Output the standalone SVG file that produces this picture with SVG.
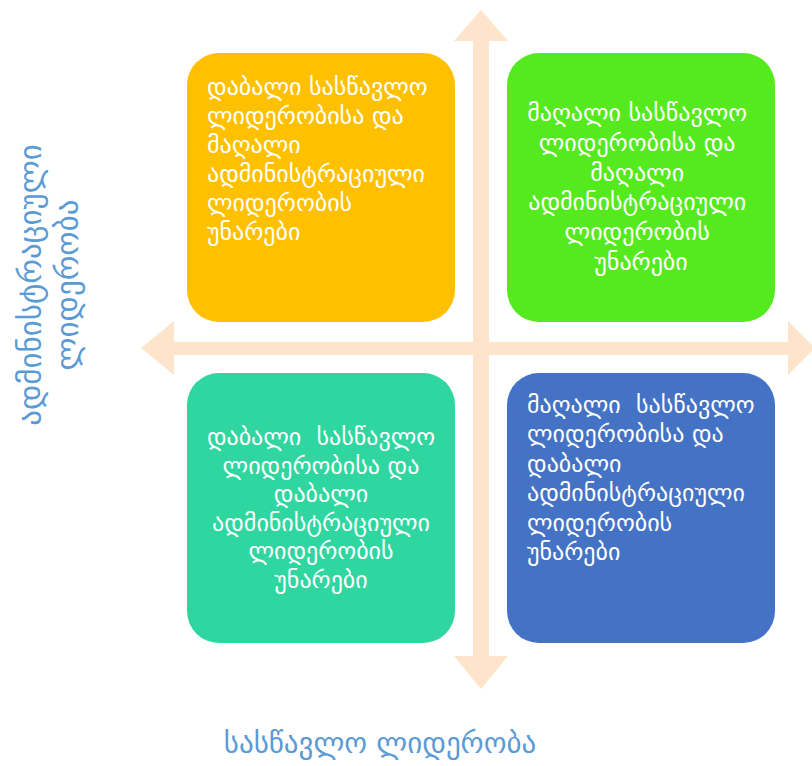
<svg xmlns="http://www.w3.org/2000/svg" width="812" height="766" viewBox="0 0 812 766">
<style>
.box text{fill:#fff;font-family:"DejaVu Sans",sans-serif;font-size:24px}
.axis{fill:#5B9BD5;font-family:"DejaVu Sans",sans-serif}
.arrow{fill:#FDE4CB}
</style>
<rect width="812" height="766" fill="#fff"/>
<g id="connectors">
<polygon class="arrow" points="473,41 454,41 481,10 508,41 489,41 489,656 508,656 481,689 454,656 473,656"/>
<polygon class="arrow" points="174,342 174,321 141,348 174,375 174,355 788,355 788,375 815,348 788,321 788,342"/>
</g>
<g id="tl" class="box">
<rect x="187" y="53" width="268" height="269" rx="32" fill="#FFC000"/>
<text x="207" y="95">
<tspan x="207">დაბალი სასწავლო</tspan>
<tspan x="207" dy="29">ლიდერობისა და</tspan>
<tspan x="207" dy="29">მაღალი</tspan>
<tspan x="207" dy="29">ადმინისტრაციული</tspan>
<tspan x="207" dy="29">ლიდერობის</tspan>
<tspan x="207" dy="29">უნარები</tspan>
</text>
</g>
<g id="tr" class="box">
<rect x="507" y="53" width="268" height="269" rx="32" fill="#55EA1E"/>
<text x="641" y="121" text-anchor="middle">
<tspan x="641">მაღალი სასწავლო</tspan>
<tspan x="641" dy="29.8">ლიდერობისა და</tspan>
<tspan x="641" dy="29.8">მაღალი</tspan>
<tspan x="641" dy="29.8">ადმინისტრაციული</tspan>
<tspan x="641" dy="29.8">ლიდერობის</tspan>
<tspan x="641" dy="29.8">უნარები</tspan>
</text>
</g>
<g id="bl" class="box">
<rect x="187" y="373" width="268" height="270" rx="32" fill="#2FD6A0"/>
<text x="321" y="445" text-anchor="middle" xml:space="preserve"><tspan x="321">დაბალი  სასწავლო</tspan><tspan x="321" dy="28.6">ლიდერობისა და</tspan><tspan x="321" dy="28.6">დაბალი</tspan><tspan x="321" dy="28.6">ადმინისტრაციული</tspan><tspan x="321" dy="28.6">ლიდერობის</tspan><tspan x="321" dy="28.6">უნარები</tspan></text>
</g>
<g id="br" class="box">
<rect x="507" y="373" width="268" height="270" rx="32" fill="#4472C4"/>
<text x="527" y="413" xml:space="preserve"><tspan x="527">მაღალი  სასწავლო</tspan><tspan x="527" dy="29.4">ლიდერობისა და</tspan><tspan x="527" dy="29.4">დაბალი</tspan><tspan x="527" dy="29.4">ადმინისტრაციული</tspan><tspan x="527" dy="29.4">ლიდერობის</tspan><tspan x="527" dy="29.4">უნარები</tspan></text>
</g>
<g id="y-label">
<text class="axis" font-size="31" transform="translate(41,285) rotate(-90)" text-anchor="middle"><tspan x="0" y="0">ადმინისტრაციული</tspan><tspan x="0" y="37">ლიდერობა</tspan></text>
</g>
<g id="x-label">
<text class="axis" font-size="29" x="380" y="753" text-anchor="middle">სასწავლო ლიდერობა</text>
</g>
</svg>
